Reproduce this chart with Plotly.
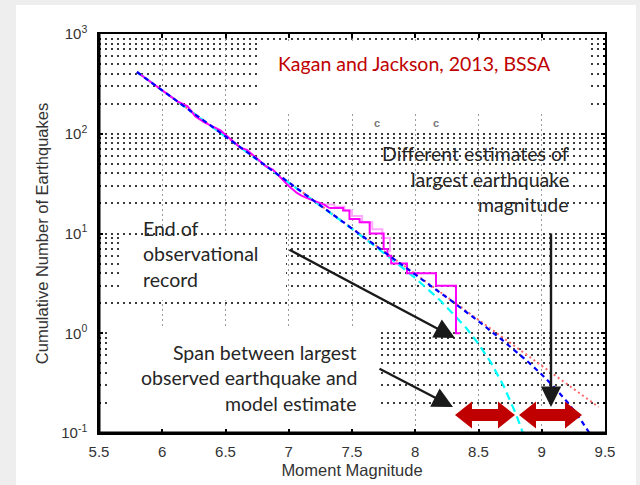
import plotly.graph_objects as go

# ---------------- data ----------------
# observed catalogue (magenta), smooth part
obs_m_a = [5.80, 5.86, 5.92, 5.98, 6.05, 6.12, 6.20, 6.26, 6.33, 6.40, 6.46, 6.55,
           6.62, 6.67, 6.75, 6.82, 6.876, 6.955, 7.00, 7.065, 7.10, 7.17, 7.22, 7.28, 7.32]
obs_n_a = [416, 366, 318, 284, 245, 211, 188, 150, 131, 118, 108, 86,
           72, 69, 56, 47, 43.4, 34.4, 30, 25.5, 24, 22, 21, 19.5, 18]
# observed catalogue (magenta), stepped tail
obs_m_b = [7.32, 7.43, 7.48, 7.56, 7.64, 7.75, 7.78, 7.81, 7.935, 8.164, 8.322, 8.354]
obs_n_b = [18, 17, 14, 13, 10, 7, 6, 5, 4, 3, 1, 1]
# lighter pink catalogue
alt_m = [7.28, 7.36, 7.44, 7.50, 7.58, 7.66, 7.74, 7.80]
alt_n = [19.5, 18.5, 17, 15, 13, 11, 9, 6.5]

# tapered G-R (blue dashed)
blue_m = [5.80, 6.00, 6.50, 7.00, 7.50, 8.00, 8.30, 8.50, 8.70, 8.90, 9.00, 9.10, 9.20, 9.30, 9.36, 9.40]
blue_n = [416, 272, 94.4, 32.7, 11.35, 3.91, 2.05, 1.32, 0.831, 0.506, 0.386, 0.287, 0.206, 0.141, 0.109, 0.090]
# strongly tapered G-R (cyan dashed)
cyan_m = [5.80, 6.50, 7.00, 7.50, 7.80, 8.00, 8.20, 8.40, 8.50, 8.60, 8.70, 8.80, 8.85, 8.90]
cyan_n = [416, 94.4, 32.6, 11.15, 5.72, 3.57, 2.12, 1.14, 0.783, 0.504, 0.294, 0.151, 0.101, 0.064]
# pure G-R (red dotted)
red_m = [5.80, 7.00, 8.00, 9.00, 9.45]
red_n = [416, 32.7, 3.93, 0.473, 0.182]

x_ticks = [5.5, 6, 6.5, 7, 7.5, 8, 8.5, 9, 9.5]
x_tick_text = ["5.5", "6", "6.5", "7", "7.5", "8", "8.5", "9", "9.5"]
y_ticks = [0.1, 1, 10, 100, 1000]
y_tick_text = ["10<sup>-1</sup>", "10<sup>0</sup>", "10<sup>1</sup>", "10<sup>2</sup>", "10<sup>3</sup>"]
y_minor = [k * 10 ** e for e in (-1, 0, 1, 2) for k in range(2, 10)]

# ---------------- layout geometry ----------------
W, H = 640, 485
L, R, T, B = 99, 605, 34, 433
X0, X1, YL0, YL1 = 5.5, 9.5, -1.0, 3.0


def px(xp):
    return (xp - L) / (R - L)


def py(yp):
    return (B - yp) / (B - T)


def dx(xp):  # pixel -> data x
    return X0 + (X1 - X0) * px(xp)


def dy(yp):  # pixel -> data y (log axis, data value)
    return 10 ** (YL0 + (YL1 - YL0) * py(yp))


fig = go.Figure()

fig.add_trace(go.Scatter(x=red_m, y=red_n, mode="lines",
                         line=dict(color="#ff6a6a", width=2, dash="2px,3px")))
fig.add_trace(go.Scatter(x=cyan_m, y=cyan_n, mode="lines",
                         line=dict(color="#00ffff", width=2.2, dash="8px,5px")))
fig.add_trace(go.Scatter(x=alt_m, y=alt_n, mode="lines", line_shape="hv",
                         line=dict(color="#ffa8ff", width=2)))
fig.add_trace(go.Scatter(x=obs_m_a, y=obs_n_a, mode="lines",
                         line=dict(color="#ff00ff", width=2)))
fig.add_trace(go.Scatter(x=obs_m_b, y=obs_n_b, mode="lines", line_shape="hv",
                         line=dict(color="#ff00ff", width=2)))
fig.add_trace(go.Scatter(x=blue_m, y=blue_n, mode="lines",
                         line=dict(color="#0000ff", width=2.2, dash="5px,4px")))

shapes = []
# grey page with white slide panel
shapes.append(dict(type="rect", xref="paper", yref="paper", layer="below",
                   x0=px(16), x1=px(636), y0=py(560), y1=py(5),
                   fillcolor="white", line=dict(width=0)))
# white text boxes that hide parts of the grid (between grid and traces)
for (xa, xb, ya, yb) in [(258, 590, 41, 112), (120, 286, 235, 300), (110, 378, 328, 432)]:
    shapes.append(dict(type="rect", xref="x", yref="y", layer="between",
                       x0=dx(xa), x1=dx(xb), y0=dy(yb), y1=dy(ya),
                       fillcolor="white", line=dict(width=0)))
# thicker left and bottom axis lines
shapes.append(dict(type="line", xref="paper", yref="paper", x0=0, x1=0, y0=-0.004, y1=1,
                   line=dict(color="black", width=3)))
shapes.append(dict(type="line", xref="paper", yref="paper", x0=0, x1=1, y0=0, y1=0,
                   line=dict(color="black", width=3)))


# red double-headed arrows
def dbl_arrow(xa, xb, yc, hh=13.5, sh=6, hl=17):
    pts = [(xa, yc), (xa + hl, yc - hh), (xa + hl, yc - sh), (xb - hl, yc - sh), (xb - hl, yc - hh),
           (xb, yc), (xb - hl, yc + hh), (xb - hl, yc + sh), (xa + hl, yc + sh), (xa + hl, yc + hh)]
    path = "M " + " L ".join(f"{px(a):.5f},{py(b):.5f}" for a, b in pts) + " Z"
    return dict(type="path", xref="paper", yref="paper", path=path, layer="above",
                fillcolor="#c00000", line=dict(width=0))


shapes.append(dbl_arrow(455, 515, 415))
shapes.append(dbl_arrow(519, 582, 415))

FAM = "Lato, Open Sans, sans-serif"
txt_font = dict(family=FAM, size=19.5, color="#262626")
ann = []
ann.append(dict(text="Kagan and Jackson, 2013, BSSA", xref="paper", yref="paper",
                x=px(414), y=py(63), showarrow=False, xanchor="center", yanchor="middle",
                font=dict(family=FAM, size=19.5, color="#c00000")))
for t, yy in [("Different estimates of", 153), ("largest earthquake", 179), ("magnitude", 204)]:
    ann.append(dict(text=t, xref="paper", yref="paper", x=px(571), y=py(yy), showarrow=False,
                    xanchor="right", yanchor="middle", font=txt_font))
for t, yy in [("End of", 228), ("observational", 253), ("record", 279)]:
    ann.append(dict(text=t, xref="paper", yref="paper", x=px(141), y=py(yy), showarrow=False,
                    xanchor="left", yanchor="middle", font=txt_font))
for t, yy in [("Span between largest", 352), ("observed earthquake and", 377), ("model estimate", 403)]:
    ann.append(dict(text=t, xref="paper", yref="paper", x=px(359), y=py(yy), showarrow=False,
                    xanchor="right", yanchor="middle", font=txt_font))
# small grey remnants
for xx in (377, 441):
    ann.append(dict(text="<b>c</b>", xref="paper", yref="paper", x=px(xx), y=py(115), showarrow=False,
                    font=dict(family="Liberation Sans", size=11, color="#777777")))
# black arrows
for (tx, ty, sx, sy) in [(455, 338, 288, 249), (453, 407, 378, 368), (551, 407, 551, 232)]:
    ann.append(dict(text="", xref="paper", yref="paper", x=px(tx), y=py(ty),
                    ax=sx - tx, ay=sy - ty, showarrow=True, arrowhead=2, arrowsize=1.7,
                    arrowwidth=2.4, arrowcolor="#1a1a1a"))

tick_font = dict(family="Liberation Sans, Arial, sans-serif", size=15, color="#333333")
title_font = dict(family="Liberation Sans, Arial, sans-serif", size=16.5, color="#333333")
fig.update_layout(
    width=W, height=H,
    margin=dict(l=L, r=W - R, t=T, b=H - B, pad=0, autoexpand=False),
    paper_bgcolor="#eeeeee", plot_bgcolor="white",
    showlegend=False, hovermode=False,
    shapes=shapes, annotations=ann,
    xaxis=dict(range=[X0, X1], tickvals=x_ticks, ticktext=x_tick_text, automargin=False,
               showline=True, linecolor="black", linewidth=1.5, mirror="ticks",
               ticks="inside", ticklen=4, tickcolor="black", tickwidth=1.5,
               showgrid=True, gridcolor="#9a9a9a", gridwidth=1, griddash="2px,3px",
               zeroline=False, tickfont=tick_font, ticklabelstandoff=4,
               title=dict(text="Moment Magnitude", standoff=6, font=title_font)),
    yaxis=dict(type="log", range=[YL0, YL1], tickvals=y_ticks, ticktext=y_tick_text, automargin=False,
               showline=True, linecolor="black", linewidth=1.5, mirror="ticks",
               ticks="inside", ticklen=4, tickcolor="black", tickwidth=1.5,
               showgrid=True, gridcolor="#3c3c3c", gridwidth=1.5, griddash="2px,4px",
               minor=dict(tickvals=y_minor, showgrid=True, gridcolor="#3c3c3c", gridwidth=1.5,
                          griddash="2px,4px", ticks="inside", ticklen=2, tickcolor="black"),
               zeroline=False, tickfont=tick_font, ticklabelstandoff=7,
               title=dict(text="Cumulative Number of Earthquakes", standoff=8, font=title_font)),
)

fig.write_html("out.html", config={"displayModeBar": False},
               post_script="document.body.style.margin='0';document.body.style.overflow='hidden';")
